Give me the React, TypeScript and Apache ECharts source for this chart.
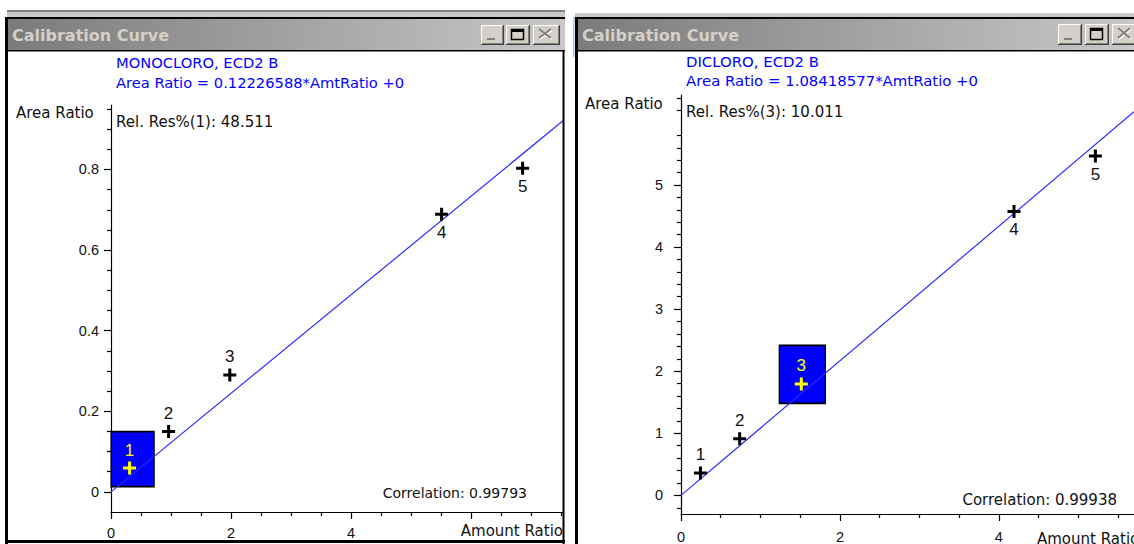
import React, { useEffect, useRef } from "react";
import * as echarts from "echarts";

// ---------- data ----------
const windowTitle = "Calibration Curve";
const pointNames = ["1", "2", "3", "4", "5"];
const labelSides = ["top", "top", "top", "bottom", "bottom"];

const leftCompound = "MONOCLORO, ECD2 B";
const leftEquation = "Area Ratio = 0.12226588*AmtRatio +0";
const leftRelRes = "Rel. Res%(1): 48.511";
const leftCorrelation = "Correlation: 0.99793";
const leftSlope = 0.12226588;
const leftAmount = [0.31, 0.96, 1.98, 5.51, 6.86];
const leftArea = [0.059, 0.15, 0.29, 0.689, 0.803];
const leftSelected = 0;
const leftXRange = [0, 7.533];
const leftYRange = [-0.05, 0.96];
const leftXLabels = [0, 2, 4];
const leftXMajor = [0, 2, 4, 6];
const leftXMinor = [0.5, 1, 1.5, 2.5, 3, 3.5, 4.5, 5, 5.5, 6.5, 7, 7.5];
const leftYLabels = [0, 0.2, 0.4, 0.6, 0.8];
const leftYMinor = [0.05, 0.1, 0.15, 0.25, 0.3, 0.35, 0.45, 0.5, 0.55, 0.65, 0.7, 0.75, 0.85, 0.9, 0.95];

const rightCompound = "DICLORO, ECD2 B";
const rightEquation = "Area Ratio = 1.08418577*AmtRatio +0";
const rightRelRes = "Rel. Res%(3): 10.011";
const rightCorrelation = "Correlation: 0.99938";
const rightSlope = 1.08418577;
const rightAmount = [0.245, 0.738, 1.514, 4.19, 5.214];
const rightArea = [0.361, 0.912, 1.795, 4.575, 5.467];
const rightSelected = 2;
const rightXRange = [0, 5.7];
const rightYRange = [-0.3, 6.45];
const rightXLabels = [0, 2, 4];
const rightXMajor = [0, 2, 4];
const rightXMinor = [0.5, 1, 1.5, 2.5, 3, 3.5, 4.5, 5, 5.5];
const rightYLabels = [0, 1, 2, 3, 4, 5];
const rightYMinor = [-0.2, 0.2, 0.4, 0.6, 0.8, 1.2, 1.4, 1.6, 1.8, 2.2, 2.4, 2.6, 2.8, 3.2, 3.4, 3.6, 3.8, 4.2, 4.4, 4.6, 4.8, 5.2, 5.4, 5.6, 5.8, 6.2, 6.4];

const xAxisName = "Amount Ratio";
const yAxisName = "Area Ratio";

// ---------- styles ----------
const TICK_FONT = "Liberation Sans";
const TEXT_FONT = "DejaVu Sans";
const PLUS = "path://M5,0H8V5H13V8H8V13H5V8H0V5H5Z";

function majorAxis(kind: "x" | "y", grid: number, range: number[], labels: number[], ticks: number[], margin: number) {
  return {
    type: "value",
    gridIndex: grid,
    position: kind === "x" ? "bottom" : "left",
    min: range[0],
    max: range[1],
    axisLine: { show: true, onZero: false, lineStyle: { color: "#000", width: 1.2 } },
    axisTick: { show: true, inside: false, length: 7, customValues: ticks, lineStyle: { color: "#000", width: 1.2 } },
    axisLabel: {
      show: true,
      customValues: labels,
      margin,
      color: "#111",
      fontSize: 14.5,
      fontFamily: TICK_FONT,
    },
    splitLine: { show: false },
  };
}

function minorAxis(kind: "x" | "y", grid: number, range: number[], ticks: number[]) {
  return {
    type: "value",
    gridIndex: grid,
    position: kind === "x" ? "bottom" : "left",
    offset: 0,
    min: range[0],
    max: range[1],
    axisLine: { show: false, onZero: false },
    axisTick: { show: true, inside: false, length: 4, customValues: ticks, lineStyle: { color: "#000", width: 1.2 } },
    axisLabel: { show: false },
    splitLine: { show: false },
  };
}

function panelSeries(
  axisIdx: number,
  amount: number[],
  area: number[],
  selected: number,
  slope: number,
  xMax: number,
  boxSize: number[],
  boxOffset: number[]
) {
  return [
    {
      type: "scatter",
      xAxisIndex: axisIdx,
      yAxisIndex: axisIdx,
      data: [[amount[selected], area[selected]]],
      symbol: "rect",
      symbolSize: boxSize,
      symbolOffset: boxOffset,
      itemStyle: { color: "#0000ff", borderColor: "#000", borderWidth: 1.5, opacity: 1 },
      silent: true,
      z: 1,
    },
    {
      type: "line",
      xAxisIndex: axisIdx,
      yAxisIndex: axisIdx,
      data: [
        [0, 0],
        [xMax, slope * xMax],
      ],
      symbol: "none",
      showSymbol: false,
      lineStyle: { color: "#2a2aff", width: 1.2 },
      silent: true,
      z: 2,
    },
    {
      type: "scatter",
      xAxisIndex: axisIdx,
      yAxisIndex: axisIdx,
      symbol: PLUS,
      symbolSize: 13,
      z: 3,
      data: amount.map((a, i) => ({
        value: [a, area[i]],
        itemStyle: { color: i === selected ? "#ffff00" : "#000", opacity: 1 },
        label: {
          show: true,
          position: labelSides[i],
          distance: 3,
          formatter: pointNames[i],
          color: i === selected ? "#ffff00" : "#111",
          fontSize: 17,
          fontFamily: TICK_FONT,
        },
      })),
    },
  ];
}

function txt(text: string, x: number, y: number, fill: string, size = 14, align = "left", weight = "normal") {
  return {
    type: "text",
    x,
    y,
    silent: true,
    z: 10,
    style: {
      text,
      fill,
      font: `${weight} ${size}px "${TEXT_FONT}"`,
      align,
      textAlign: align,
      verticalAlign: "middle",
      textVerticalAlign: "middle",
    },
  };
}

function rect(x: number, y: number, w: number, h: number, fill: any, z = 5) {
  return { type: "rect", silent: true, z, shape: { x, y, width: w, height: h }, style: { fill } };
}

function seg(x1: number, y1: number, x2: number, y2: number, stroke: string, lw = 1, z = 7) {
  return { type: "line", silent: true, z, shape: { x1, y1, x2, y2 }, style: { stroke, lineWidth: lw } };
}

function button(x: number, y: number, w: number, h: number, glyph: "min" | "max" | "close") {
  const els: any[] = [
    rect(x, y, w, h, "#d4d0c8", 6),
    seg(x, y + 0.5, x + w, y + 0.5, "#ffffff"),
    seg(x + 0.5, y, x + 0.5, y + h, "#ffffff"),
    seg(x, y + h - 0.5, x + w, y + h - 0.5, "#404040"),
    seg(x + w - 0.5, y, x + w - 0.5, y + h, "#404040"),
    seg(x + 1, y + h - 1.5, x + w - 1, y + h - 1.5, "#808080"),
    seg(x + w - 1.5, y + 1, x + w - 1.5, y + h - 1, "#808080"),
  ];
  if (glyph === "min") {
    els.push(rect(x + 6, y + h - 7, 8, 2, "#808080", 8));
  } else if (glyph === "max") {
    els.push({
      type: "rect",
      silent: true,
      z: 8,
      shape: { x: x + 5.5, y: y + 4.5, width: w - 12, height: h - 10 },
      style: { fill: "none", stroke: "#000", lineWidth: 1.5 },
    });
    els.push(rect(x + 5, y + 4, w - 11, 3, "#000", 8));
  } else {
    els.push(seg(x + 7, y + 5, x + w - 8, y + h - 6, "#ffffff", 2, 8));
    els.push(seg(x + w - 8, y + 5, x + 7, y + h - 6, "#ffffff", 2, 8));
    els.push(seg(x + 6, y + 4, x + w - 9, y + h - 7, "#808080", 2, 9));
    els.push(seg(x + w - 9, y + 4, x + 6, y + h - 7, "#808080", 2, 9));
  }
  return els;
}

function titleGradient() {
  return {
    type: "linear",
    x: 0,
    y: 0,
    x2: 1,
    y2: 0,
    colorStops: [
      { offset: 0, color: "#7b7b7b" },
      { offset: 1, color: "#c8c8c8" },
    ],
  };
}

function chromeGraphics() {
  const g: any[] = [];
  // left window
  g.push(rect(7, 10, 558, 2, "#808080"));
  g.push(rect(7, 12, 558, 5, "#c8c8c8"));
  g.push(rect(6, 17, 559, 2, "#000"));
  g.push(rect(7, 19, 558, 31, titleGradient()));
  g.push(rect(6, 50, 559, 1.5, "#000"));
  g.push(rect(5, 17, 3, 527, "#000"));
  g.push(rect(562.5, 50, 2, 494, "#000"));
  g.push(rect(5, 540, 560, 3, "#000"));
  g.push(txt(windowTitle, 12, 35, "#d4d0c8", 16, "left", "bold"));
  g.push(...button(481, 25, 23, 20, "min"));
  g.push(...button(506, 25, 24, 20, "max"));
  g.push(...button(533, 25, 27, 20, "close"));
  // right window
  g.push(rect(575, 13, 559, 4, "#c8c8c8"));
  g.push(rect(575, 17, 559, 2, "#000"));
  g.push(rect(577, 19, 557, 31, titleGradient()));
  g.push(rect(575, 50, 559, 1.5, "#000"));
  g.push(rect(573, 17, 1.5, 40, "#a8c8f0"));
  g.push(rect(575, 17, 3, 527, "#000"));
  g.push(txt(windowTitle, 582, 35, "#d4d0c8", 16, "left", "bold"));
  g.push(...button(1058, 24, 24, 21, "min"));
  g.push(...button(1085, 24, 24, 21, "max"));
  g.push(...button(1112, 24, 27, 21, "close"));

  // left texts
  g.push(txt(leftCompound, 116, 62, "#0000ff", 14.7));
  g.push(txt(leftEquation, 116, 82, "#0000ff", 14.7));
  g.push(txt(yAxisName, 16, 113, "#111", 15));
  g.push(txt(leftRelRes, 116, 122, "#111", 15));
  g.push(txt(leftCorrelation, 527, 493, "#111", 14, "right"));
  g.push(txt(xAxisName, 563, 531, "#111", 15, "right"));
  // right texts
  g.push(txt(rightCompound, 686, 62, "#0000ff", 14.9));
  g.push(txt(rightEquation, 686, 81, "#0000ff", 14.9));
  g.push(txt(yAxisName, 585, 104, "#111", 15));
  g.push(txt(rightRelRes, 686, 112, "#111", 15));
  g.push(txt(rightCorrelation, 1117, 500, "#111", 15, "right"));
  g.push(txt(xAxisName, 1037, 539, "#111", 15));
  return g;
}

export default function App() {
  const ref = useRef<HTMLDivElement>(null);
  useEffect(() => {
    if (!ref.current) return;
    const chart = echarts.init(ref.current, null, { renderer: "svg" });
    const option: any = {
      animation: false,
      backgroundColor: "#ffffff",
      grid: [
        { left: 111, top: 105, width: 452, height: 407, containLabel: false },
        { left: 681, top: 95, width: 459, height: 424, containLabel: false },
      ],
      xAxis: [
        majorAxis("x", 0, leftXRange, leftXLabels, leftXMajor, 13),
        majorAxis("x", 1, rightXRange, rightXLabels, rightXMajor, 15),
        minorAxis("x", 0, leftXRange, leftXMinor),
        minorAxis("x", 1, rightXRange, rightXMinor),
      ],
      yAxis: [
        majorAxis("y", 0, leftYRange, leftYLabels, leftYLabels, 12),
        majorAxis("y", 1, rightYRange, rightYLabels, rightYLabels, 18),
        minorAxis("y", 0, leftYRange, leftYMinor),
        minorAxis("y", 1, rightYRange, rightYMinor),
      ],
      series: [
        ...panelSeries(0, leftAmount, leftArea, leftSelected, leftSlope, leftXRange[1], [43, 55], [3, -9]),
        ...panelSeries(1, rightAmount, rightArea, rightSelected, rightSlope, rightXRange[1], [46, 58], [1, -9.5]),
      ],
      graphic: chromeGraphics(),
    };
    chart.setOption(option);
    return () => chart.dispose();
  }, []);
  return (
    <div
      ref={ref}
      style={{ position: "fixed", left: 0, top: 0, width: 1134, height: 544, background: "#fff" }}
    />
  );
}
